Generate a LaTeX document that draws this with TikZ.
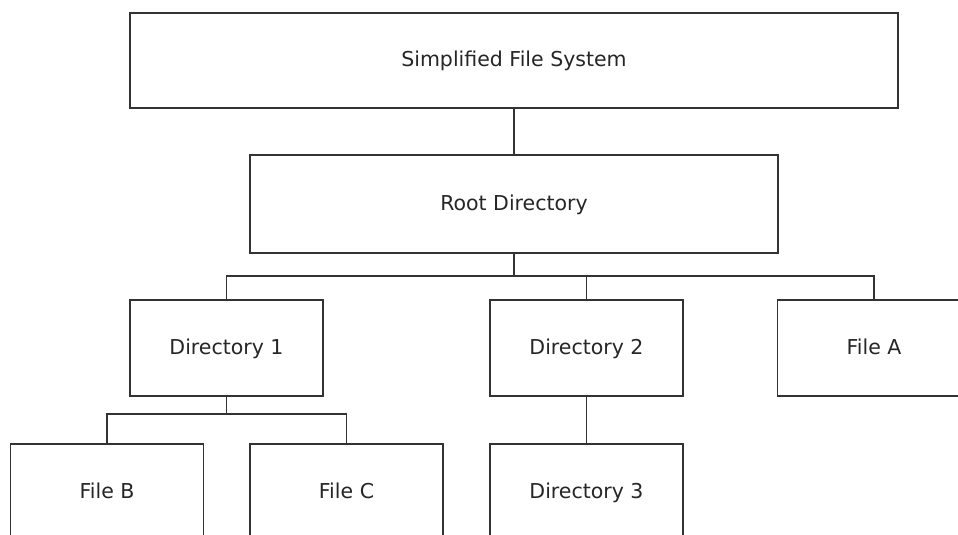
\documentclass[tikz,border=0pt]{standalone}
\usepackage{fontspec}
\setmainfont{DejaVu Sans}
\usetikzlibrary{calc}
\usetikzlibrary{positioning}
\newcommand{\lineColor}{black!80}
\tikzset{box/.style = {draw=\lineColor, line width=1.5pt, fill=white, minimum width=193pt, minimum height=96pt, inner sep=0pt, text height=2.5ex, text depth=.3ex, text=black!85, font=\fontsize{20.5}{24}\selectfont}}
\tikzset{link/.style = {\lineColor, line width=1.5pt}}

\begin{document}
\begin{tikzpicture}[x=1pt, y=-1pt]
                    \clip (0,0) rectangle (958,535);
                    \def\rowA{348}
                    \def\rowB{492}
                    \node[box, minimum width=768pt, minimum height=95pt] (sys) at (514,60.5) {Simplified File System};
                    \node[box, minimum width=528pt, minimum height=98pt] (root) at (514,204) {Root Directory};
                    \node[box] (dirone) at (226.5,\rowA) {Directory 1};
                    \node[box] (dirtwo) at (586.5,\rowA) {Directory 2};
                    \node[box] (filea) at (874,\rowA) {File A};
                    \node[box] (fileb) at (107,\rowB) {File B};
                    \node[box] (filec) at (346.5,\rowB) {File C};
                    \node[box] (dirthree) at (586.5,\rowB) {Directory 3};

                    \coordinate (busroot) at (514,276);
                    \coordinate (busone) at (226.5,414);

                    \draw[link] (sys) -- (root);
                    \draw[link] (root.south) -- (busroot);
                    \draw[link] (dirone.north) |- (busroot) -| (filea.north);
                    \draw[link] (dirtwo.north) -- (dirtwo.north |- busroot);
                    % second level below Directory 1
                    \draw[link] (dirone.south) -- (busone);
                    \draw[link] (fileb.north) |- (busone) -| (filec.north);
                    \draw[link] (dirtwo) -- (dirthree);
                \end{tikzpicture}
\end{document}
